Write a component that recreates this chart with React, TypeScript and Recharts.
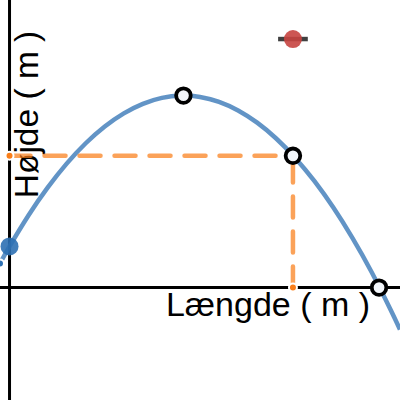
import React from "react";
import {
  ComposedChart,
  Line,
  Scatter,
  XAxis,
  YAxis,
  ErrorBar,
  Customized,
  ReferenceLine,
} from "recharts";

// Trajectory curve
const curveX = [-0.5, 0, 1, 2, 3, 4, 5, 6, 7, 8, 9, 10, 11, 12, 13, 14, 15, 16, 17, 18, 19, 20, 20.5];
const curveY = [1.27, 2.16, 3.8, 5.25, 6.51, 7.58, 8.46, 9.15, 9.65, 9.96, 10.08, 10.01, 9.75, 9.3, 8.66, 7.83, 6.81, 5.6, 4.2, 2.61, 0.83, -1.15, -2.2];

// Marked points
const startPoint = [{ x: 0, y: 2.16 }];
const openX = [9.13, 14.88, 19.4];
const openY = [10.08, 6.92, 0];
const targetPoint = [{ x: 14.88, y: 13.05, ex: 0.78 }];

// Guide lines
const guideH = [
  { x: 0, y: 6.92 },
  { x: 14.88, y: 6.92 },
];
const guideV = [
  { x: 14.88, y: 0 },
  { x: 14.88, y: 6.92 },
];

const xDomain: [number, number] = [-0.5, 20.5];
const yDomain: [number, number] = [-5.9, 15.1];

const xLabel = "Længde ( m )";
const yLabel = "Højde ( m )";

const curveData = curveX.map((x, i) => ({ x, y: curveY[i] }));
const openData = openX.map((x, i) => ({ x, y: openY[i] }));

const FONT = "'Liberation Sans', Arial, sans-serif";

const Labels = () => (
  <g>
    <text x={268} y={316} textAnchor="middle" fontFamily={FONT} fontSize={34} fill="#000">
      {xLabel}
    </text>
    <text
      x={38}
      y={114.5}
      textAnchor="middle"
      fontFamily={FONT}
      fontSize={33.5}
      fill="#000"
      transform="rotate(-90, 38, 114.5)"
    >
      {yLabel}
    </text>
  </g>
);

const OpenDot = (props: any) => (
  <circle cx={props.cx} cy={props.cy} r={7.3} fill="#f3f6fa" stroke="#000" strokeWidth={3.8} />
);
const BlueDot = (props: any) => (
  <circle cx={props.cx} cy={props.cy} r={9} fill="#2d70b3" fillOpacity={0.9} />
);
const RedDot = (props: any) => (
  <circle cx={props.cx} cy={props.cy} r={9} fill="#c74440" fillOpacity={0.9} />
);
const NoDot = () => <g />;

export default function App() {
  return (
    <div style={{ position: "absolute", left: 0, top: 0, width: 400, height: 400, background: "#fff" }}>
      <ComposedChart width={400} height={400} margin={{ top: 0, right: 0, bottom: 0, left: 0 }}>
        <XAxis type="number" dataKey="x" domain={xDomain} allowDataOverflow hide />
        <YAxis type="number" dataKey="y" domain={yDomain} allowDataOverflow hide />
        <ReferenceLine y={0} stroke="#000" strokeWidth={3} />
        <ReferenceLine x={0} stroke="#000" strokeWidth={3} />
        <Customized component={Labels} />
        <Line
          data={curveData}
          dataKey="y"
          type="natural"
          stroke="#2d70b3"
          strokeOpacity={0.75}
          strokeWidth={4.5}
          dot={false}
          isAnimationActive={false}
        />
        <Line
          data={guideH}
          dataKey="y"
          type="linear"
          stroke="#fa7e19"
          strokeOpacity={0.72}
          strokeWidth={4.5}
          strokeDasharray="21 14"
          strokeLinecap="round"
          dot={false}
          isAnimationActive={false}
        />
        <Line
          data={guideV}
          dataKey="y"
          type="linear"
          stroke="#fa7e19"
          strokeOpacity={0.72}
          strokeWidth={4.5}
          strokeDasharray="21 14"
          strokeLinecap="round"
          dot={false}
          isAnimationActive={false}
        />
        <Scatter data={startPoint} dataKey="y" shape={BlueDot} isAnimationActive={false} />
        <Scatter data={openData} dataKey="y" shape={OpenDot} isAnimationActive={false} />
        <Scatter data={targetPoint} dataKey="y" shape={RedDot} isAnimationActive={false} />
        <Scatter data={targetPoint} dataKey="y" shape={NoDot} isAnimationActive={false}>
          <ErrorBar dataKey="ex" direction="x" width={0} stroke="#000" strokeOpacity={0.75} strokeWidth={4.5} />
        </Scatter>
      </ComposedChart>
    </div>
  );
}
